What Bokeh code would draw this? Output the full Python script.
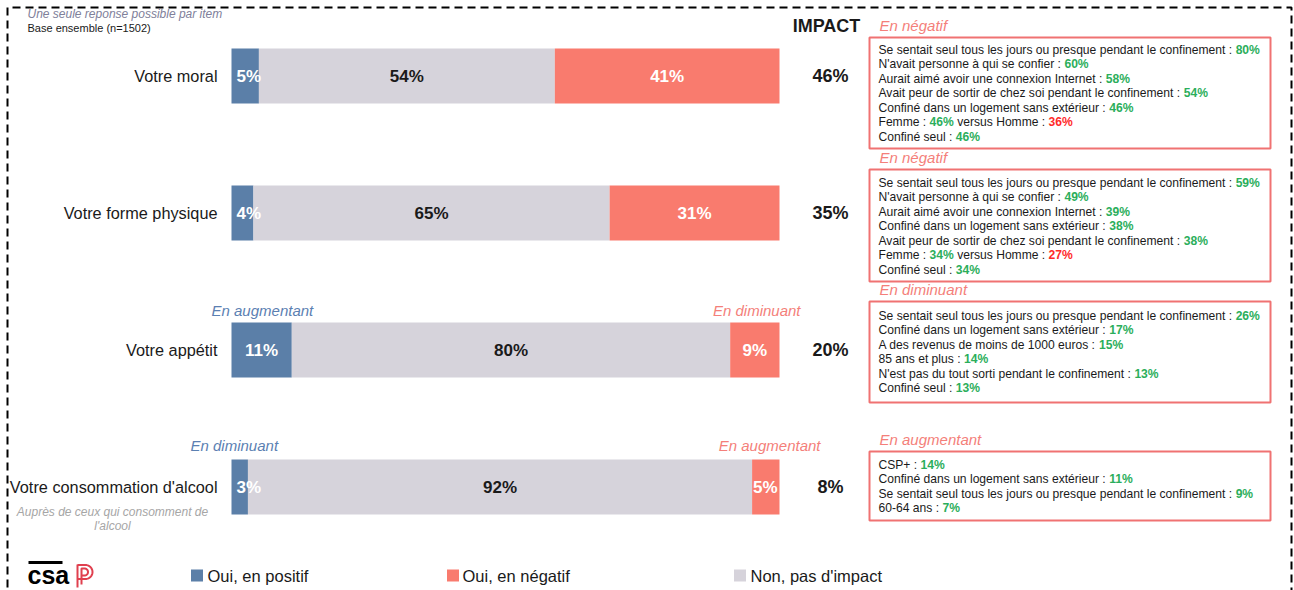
import numpy as np
from bokeh.plotting import figure
from bokeh.models import Range1d
from bokeh.core.properties import value
from bokeh.embed import file_html
from bokeh.resources import INLINE

# ---------------- data ----------------
categories = ["Votre moral", "Votre forme physique", "Votre appétit", "Votre consommation d'alcool"]
positive = [5, 4, 11, 3]
neutral = [54, 65, 80, 92]
negative = [41, 31, 9, 5]
impact = [46, 35, 20, 8]
legend_labels = ["Oui, en positif", "Oui, en négatif", "Non, pas d'impact"]
pos_notes = [None, None, "En augmentant", "En diminuant"]
neg_notes = [None, None, "En diminuant", "En augmentant"]
box_titles = ["En négatif", "En négatif", "En diminuant", "En augmentant"]

box1_labels = ["Se sentait seul tous les jours ou presque pendant le confinement",
               "N'avait personne à qui se confier",
               "Aurait aimé avoir une connexion Internet",
               "Avait peur de sortir de chez soi pendant le confinement",
               "Confiné dans un logement sans extérieur",
               "Femme",
               "Confiné seul"]
box1_values = [80, 60, 58, 54, 46, 46, 46]
box2_labels = ["Se sentait seul tous les jours ou presque pendant le confinement",
               "N'avait personne à qui se confier",
               "Aurait aimé avoir une connexion Internet",
               "Confiné dans un logement sans extérieur",
               "Avait peur de sortir de chez soi pendant le confinement",
               "Femme",
               "Confiné seul"]
box2_values = [59, 49, 39, 38, 38, 34, 34]
box3_labels = ["Se sentait seul tous les jours ou presque pendant le confinement",
               "Confiné dans un logement sans extérieur",
               "A des revenus de moins de 1000 euros",
               "85 ans et plus",
               "N'est pas du tout sorti pendant le confinement",
               "Confiné seul"]
box3_values = [26, 17, 15, 14, 13, 13]
box4_labels = ["CSP+",
               "Confiné dans un logement sans extérieur",
               "Se sentait seul tous les jours ou presque pendant le confinement",
               "60-64 ans"]
box4_values = [14, 11, 9, 7]
homme_values = [36, 27, None, None]

# ---------------- style ----------------
FONT = "Liberation Sans"
BLUE = "#5B7FA8"
GRAY = "#D6D3DB"
RED = "#F97B6E"
BOXRED = "#F07272"
GREEN = "#2BAE5B"
HRED = "#FF2A2A"
NOTE_RED = "#F47F7A"
NOTE_BLUE = "#5B80B2"
INK = "#1a1a1a"

# page-pixel helpers (0% of bars at x=231px, 1% = 5.48px ; rows 137px apart)
X0, XS = 231.0, 5.48
Y0, YS = 75.5, 137.0


def X(px):
    return (px - X0) / XS


def Y(py):
    return (py - Y0) / YS


_AW = {c: 556 for c in "0123456789"}
_AW.update({' ': 278, '%': 889, "'": 191, '(': 333, ')': 333, '+': 584, ',': 278,
            '-': 333, '.': 278, ':': 278, '=': 584, '/': 278,
            'é': 556, 'è': 556, 'à': 556, 'ç': 500})
_AW.update(dict(A=667, B=667, C=722, D=722, E=667, F=611, G=778, H=722, I=278, J=500, K=667,
                L=556, M=833, N=722, O=778, P=667, Q=778, R=722, S=667, T=611, U=722, V=667,
                W=944, X=667, Y=667, Z=611))
_AW.update(dict(a=556, b=556, c=500, d=556, e=556, f=278, g=556, h=556, i=222, j=222, k=500,
                l=222, m=833, n=556, o=556, p=556, q=556, r=333, s=500, t=278, u=556, v=500,
                w=722, x=500, y=500, z=500))


def tw(s, size):
    return sum(_AW.get(c, 556) for c in s) * size / 1000.0


W, HGT = 1294, 590
p = figure(width=W, height=HGT, output_backend="svg", toolbar_location=None,
           x_range=Range1d(X(0), X(W)), y_range=Range1d(Y(HGT), Y(0)),
           x_axis_location=None, y_axis_location=None, min_border=0,
           background_fill_color="white", border_fill_color="white")
p.outline_line_color = None
p.grid.visible = False


def T(px, py, s, size, color=INK, style="normal", align="left"):
    p.text(x=[X(px)], y=[Y(py)], text=[s], text_font=value(FONT),
           text_font_size=f"{size}px", text_color=color, text_font_style=style,
           text_align=align, text_baseline="middle")


# dashed frame
p.line(x=[X(7), X(7), X(1291), X(1291)], y=[Y(600), Y(7), Y(7), Y(600)],
       line_color="black", line_width=2, line_dash="8 5")

# header notes
T(27, 13, "Une seule reponse possible par item", 12, color="#80809a", style="italic")
T(27, 27, "Base ensemble (n=1502)", 11, color=INK)
T(826, 25, "IMPACT", 18, color=INK, style="bold", align="center")

# bars
BL = 17
idx = np.arange(len(categories))
pos = np.array(positive, dtype=float)
neu = np.array(neutral, dtype=float)
neg = np.array(negative, dtype=float)
r1 = pos + neu
r2 = r1 + neg
H = 55 / YS
p.hbar(y=idx, left=0, right=pos, height=H, fill_color=BLUE, line_color=None)
p.hbar(y=idx, left=pos, right=r1, height=H, fill_color=GRAY, line_color=None)
p.hbar(y=idx, left=r1, right=r2, height=H, fill_color=RED, line_color=None)

for i in idx:
    s = f"{positive[i]}%"
    xb = max(pos[i] / 2, (tw(s, BL) / 2 + 5) / XS)
    p.text(x=[xb], y=[i], text=[s], text_font=value(FONT), text_font_size=f"{BL}px",
           text_color="white", text_font_style="bold", text_align="center", text_baseline="middle")
    p.text(x=[pos[i] + neu[i] / 2], y=[i], text=[f"{neutral[i]}%"], text_font=value(FONT),
           text_font_size=f"{BL}px", text_color=INK, text_font_style="bold",
           text_align="center", text_baseline="middle")
    s = f"{negative[i]}%"
    xr = min(r1[i] + neg[i] / 2, r2[i] - (tw(s, BL) / 2 + 2) / XS)
    p.text(x=[xr], y=[i], text=[s], text_font=value(FONT), text_font_size=f"{BL}px",
           text_color="white", text_font_style="bold", text_align="center", text_baseline="middle")

# category labels and impact
p.text(x=[X(217)] * len(idx), y=idx, text=categories, text_font=value(FONT),
       text_font_size="16.3px", text_color=INK, text_align="right", text_baseline="middle")
p.text(x=[X(830)] * len(idx), y=idx, text=[f"{v}%" for v in impact], text_font=value(FONT),
       text_font_size="18px", text_color=INK, text_font_style="bold",
       text_align="center", text_baseline="middle")

T(112, 511, "Auprès de ceux qui consomment de", 12, color="#a6a6a6", style="italic", align="center")
T(112, 525, "l'alcool", 12, color="#a6a6a6", style="italic", align="center")

# notes above bars
pos_note_x = [None, None, 211, 190]
neg_note_x = [None, None, 800, 820]
note_dy = [None, None, -40, -42]
for i in idx:
    if pos_notes[i]:
        p.text(x=[X(pos_note_x[i])], y=[i + note_dy[i] / YS], text=[pos_notes[i]],
               text_font=value(FONT), text_font_size="15px", text_color=NOTE_BLUE,
               text_font_style="italic", text_align="left", text_baseline="middle")
    if neg_notes[i]:
        p.text(x=[X(neg_note_x[i])], y=[i + note_dy[i] / YS], text=[neg_notes[i]],
               text_font=value(FONT), text_font_size="15px", text_color=NOTE_RED,
               text_font_style="italic", text_align="right", text_baseline="middle")

# right-hand boxes
box_labels = [box1_labels, box2_labels, box3_labels, box4_labels]
box_values = [box1_values, box2_values, box3_values, box4_values]
box_top = [37, 169, 301, 451]
box_bottom = [148, 281, 402, 520]
first_line = [49, 182, 315, 464]
LS = 14.5
FS = 12.1
for b in range(4):
    p.quad(left=X(869), right=X(1270), top=Y(box_top[b]), bottom=Y(box_bottom[b]),
           fill_color=None, line_color=BOXRED, line_width=2)
    T(879, box_top[b] - 12, box_titles[b], 15, color=NOTE_RED, style="italic")
    for k, (lab, v) in enumerate(zip(box_labels[b], box_values[b])):
        yy = first_line[b] + k * LS
        x = 878
        s1 = lab + " :"
        T(x, yy, s1, FS)
        x += tw(s1 + " ", FS)
        s2 = f"{v}%"
        T(x, yy, s2, FS, color=GREEN, style="bold")
        x += tw(s2, FS)
        if lab == "Femme" and homme_values[b] is not None:
            x += tw(" ", FS)
            s3 = "versus Homme :"
            T(x, yy, s3, FS)
            x += tw(s3 + " ", FS)
            T(x, yy, f"{homme_values[b]}%", FS, color=HRED, style="bold")

# legend
leg_colors = [BLUE, RED, GRAY]
leg_sq_x = [196.5, 452.5, 739.5]
leg_tx = [207, 462, 750]
for c, sx, tx, lab in zip(leg_colors, leg_sq_x, leg_tx, legend_labels):
    p.scatter(x=[X(sx)], y=[Y(575)], marker="square", size=12, fill_color=c, line_color=None)
    T(tx, 575, lab, 16.5, color=INK)

# logos
p.line(x=[X(28), X(62)], y=[Y(562), Y(562)], line_color="black", line_width=3)
p.text(x=[X(27)], y=[Y(588)], text=["csa"], text_font=value(FONT), text_font_size="25px",
       text_color="black", text_font_style="bold", text_align="left", text_baseline="bottom")
th = np.linspace(-np.pi / 2, np.pi / 2, 20)
bx1 = list(85 + 7 * np.cos(th)); by1 = list(571.5 + 7 * np.sin(th))
bx2 = list(84 + 3.5 * np.cos(th)); by2 = list(571.5 + 3.5 * np.sin(th))
lx = [[77, 77], [77] + [85] + bx1 + [77], [81, 81] + bx2 + [81]]
ly = [[564, 587], [564.5] + [564.5] + by1 + [578.5], [584, 568] + by2 + [575]]
p.multi_line(xs=[[X(v) for v in a] for a in lx], ys=[[Y(v) for v in a] for a in ly],
             line_color="#E0404F", line_width=2)

open("out.html", "w").write(file_html(p, INLINE))
